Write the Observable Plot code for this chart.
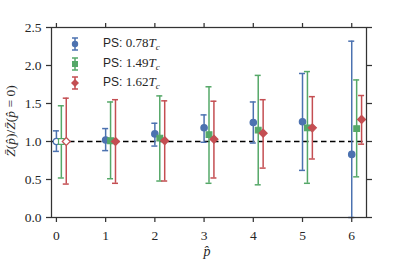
<!DOCTYPE html>
<html>
<head>
<meta charset="utf-8">
<script src="https://cdn.jsdelivr.net/npm/d3@7"></script>
<script src="https://cdn.jsdelivr.net/npm/@observablehq/plot@0.6"></script>
<style>
  html, body { margin: 0; padding: 0; background: white; }
  #chart { position: relative; width: 407px; height: 271px; }
  #chart svg text { font-family: "Liberation Serif", serif !important; }
  .legend { position: absolute; left: 67px; top: 34px; width: 120px; font-family: "Liberation Sans", Arial, sans-serif; font-size: 12px; color: #262626; }
  .legend .row { position: relative; height: 19.5px; }
  .legend svg { position: absolute; left: 0; top: 1px; width: 16px; height: 18px; }
  .legend .lab { position: absolute; left: 36px; top: 2px; white-space: nowrap; line-height: 14px; }
  .m { font-family: "Liberation Serif", serif; font-size: 13px; }
  .i { font-style: italic; }
</style>
</head>
<body>
<div id="chart"></div>
<script>
// ---- data ----
const pHat = [0, 1, 2, 3, 4, 5, 6];
const yTicks = [0, 0.5, 1.0, 1.5, 2.0, 2.5];

const ps078_val = [1.00, 1.02, 1.10, 1.18, 1.25, 1.26, 0.83];
const ps078_lo  = [0.87, 0.88, 0.94, 0.99, 0.98, 0.62, 0.00];
const ps078_hi  = [1.14, 1.17, 1.24, 1.35, 1.52, 1.895, 2.32];

const ps149_val = [1.00, 1.01, 1.045, 1.09, 1.15, 1.18, 1.17];
const ps149_lo  = [0.52, 0.51, 0.48, 0.45, 0.43, 0.45, 0.535];
const ps149_hi  = [1.47, 1.52, 1.60, 1.72, 1.87, 1.92, 1.81];

const ps162_val = [1.00, 1.00, 1.01, 1.03, 1.11, 1.18, 1.29];
const ps162_lo  = [0.44, 0.45, 0.48, 0.52, 0.65, 0.77, 0.965];
const ps162_hi  = [1.57, 1.55, 1.535, 1.53, 1.55, 1.59, 1.605];

const seriesNames = ["0.78", "1.49", "1.62"];
const colors = ["#4C72B0", "#55A868", "#C44E52"];
const symbols = ["circle", "square", "diamond2"];
const offsets = [0, 0.1, 0.2];

const allVals = [[ps078_val, ps078_lo, ps078_hi], [ps149_val, ps149_lo, ps149_hi], [ps162_val, ps162_lo, ps162_hi]];
const rows = [];
allVals.forEach(([v, lo, hi], s) => {
  pHat.forEach((p, i) => rows.push({s, p, x: p + offsets[s], v: v[i], lo: lo[i], hi: hi[i]}));
});

const axisColor = "#333";
const marks = [
  Plot.ruleY([1], {stroke: "black", strokeWidth: 1.5, strokeDasharray: "5.5,3.5"}),
];
[0, 1, 2].forEach(s => {
  const d = rows.filter(r => r.s === s);
  const c = colors[s];
  marks.push(Plot.ruleX(d, {x: "x", y1: "lo", y2: "hi", stroke: c, strokeWidth: 1.5}));
  marks.push(Plot.ruleY(d, {y: "lo", x1: "x", x2: "x", insetLeft: -3, insetRight: -3, stroke: c, strokeWidth: 1.5}));
  marks.push(Plot.ruleY(d, {y: "hi", x1: "x", x2: "x", insetLeft: -3, insetRight: -3, stroke: c, strokeWidth: 1.5}));
  marks.push(Plot.dot(d, {x: "x", y: "v", symbol: () => symbols[s], r: s === 2 ? 3.6 : 3.2,
    fill: r => r.p === 0 ? "white" : c, stroke: c, strokeWidth: 1.2}));
});
marks.push(
  Plot.axisX({anchor: "bottom", ticks: pHat, tickSize: 5, tickPadding: 8, tickFormat: d => String(d), label: null, stroke: axisColor, fill: "#262626", strokeWidth: 1.25}),
  Plot.axisX({anchor: "top", ticks: pHat, tickSize: 5, tickFormat: () => "", label: null, stroke: axisColor, strokeWidth: 1.25}),
  Plot.axisY({anchor: "left", ticks: yTicks, tickSize: 5, tickPadding: 5, tickFormat: d3.format(".1f"), label: null, stroke: axisColor, fill: "#262626", strokeWidth: 1.25}),
  Plot.axisY({anchor: "right", ticks: yTicks, tickSize: 5, tickFormat: () => "", label: null, stroke: axisColor, strokeWidth: 1.25}),
  Plot.frame({stroke: axisColor, strokeWidth: 1.25})
);

const chart = Plot.plot({
  width: 407, height: 271,
  marginLeft: 51, marginRight: 41, marginTop: 27, marginBottom: 54,
  x: {domain: [-0.1, 6.3], axis: null},
  y: {domain: [0, 2.5], axis: null},
  style: {fontFamily: "'Liberation Serif', serif", fontSize: "13.5px", background: "white", overflow: "visible"},
  marks
});
document.getElementById("chart").appendChild(chart);

// axis titles
const svg = d3.select(chart);
const yl = svg.append("text")
  .attr("transform", "translate(15,121) rotate(-90)")
  .attr("text-anchor", "middle")
  .attr("font-size", "13.5px").attr("fill", "#262626");
[["Z\u0304", true], ["(", false], ["p\u0302", true], [")/", false], ["Z\u0304", true], ["(", false], ["p\u0302", true], [" = 0)", false]]
  .forEach(([t, it]) => yl.append("tspan").attr("font-style", it ? "italic" : "normal").text(t));
svg.append("text").attr("x", 207).attr("y", 256).attr("text-anchor", "middle")
  .attr("font-size", "14px").attr("font-style", "italic").attr("fill", "#262626")
  .text("p\u0302");

// legend
const leg = document.createElement("div");
leg.className = "legend";
seriesNames.forEach((n, s) => {
  const row = document.createElement("div");
  row.className = "row";
  const sym = symbols[s] === "circle"
    ? `<circle cx="8" cy="9" r="3.2" fill="${colors[s]}"/>`
    : symbols[s] === "square"
      ? `<rect x="5" y="6" width="6" height="6" fill="${colors[s]}"/>`
      : `<path d="M8,5 L12,9 L8,13 L4,9 Z" fill="${colors[s]}"/>`;
  row.innerHTML = `<svg viewBox="0 0 16 18"><g stroke="${colors[s]}" stroke-width="1.5">
      <line x1="8" y1="3" x2="8" y2="15"/><line x1="5" y1="3" x2="11" y2="3"/><line x1="5" y1="15" x2="11" y2="15"/></g>${sym}</svg>
    <span class="lab">PS: <span class="m">${n}</span><span class="m i">T</span><sub class="m i" style="font-size:9px">c</sub></span>`;
  leg.appendChild(row);
});
document.getElementById("chart").appendChild(leg);
</script>
</body>
</html>
